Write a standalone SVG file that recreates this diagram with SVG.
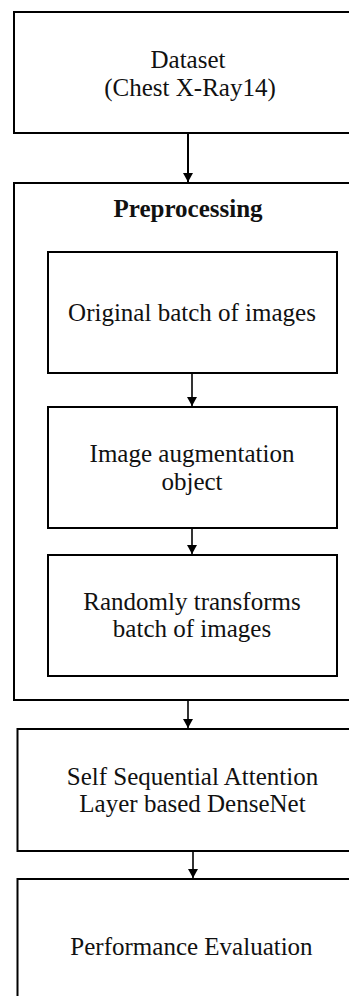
<svg xmlns="http://www.w3.org/2000/svg" width="349" height="996" viewBox="0 0 349 996">
<defs>
<style>
.box{fill:none;stroke:#000;stroke-width:2}
.t{font-family:"Liberation Serif","Times New Roman",serif;font-size:25px;fill:#111;text-anchor:middle}
.b{font-weight:bold}
.c{stroke:#000;stroke-width:1.6;fill:none}
.c2{stroke:#000;stroke-width:2;fill:none}
</style>
<marker id="ah" markerWidth="9" markerHeight="10" refX="9" refY="5" orient="auto" markerUnits="userSpaceOnUse" viewBox="0 0 9 10">
<path d="M0,0 L9,5 L0,10 Z" fill="#000"/>
</marker>
</defs>
<rect width="349" height="996" fill="#fff"/>
<g id="dataset">
<rect class="box" x="14" y="12" width="360" height="121"/>
<text class="t" x="188" y="68">Dataset</text>
<text class="t" x="190" y="96">(Chest X-Ray14)</text>
</g>
<g id="preprocessing">
<rect class="box" x="14" y="183" width="360" height="517"/>
<text class="t b" x="188" y="217">Preprocessing</text>
</g>
<g id="original">
<rect class="box" x="48" y="252" width="289" height="121"/>
<text class="t" x="192" y="321">Original batch of images</text>
</g>
<g id="augmentation">
<rect class="box" x="48" y="407" width="289" height="121"/>
<text class="t" x="192" y="462">Image augmentation</text>
<text class="t" x="192" y="490">object</text>
</g>
<g id="transforms">
<rect class="box" x="48" y="555" width="289" height="121"/>
<text class="t" x="192" y="610">Randomly transforms</text>
<text class="t" x="192" y="637">batch of images</text>
</g>
<g id="densenet">
<rect class="box" x="17.5" y="729" width="360" height="122"/>
<text class="t" x="192.5" y="785">Self Sequential Attention</text>
<text class="t" x="192.5" y="812">Layer based DenseNet</text>
</g>
<g id="evaluation">
<rect class="box" x="17.5" y="879" width="360" height="140"/>
<text class="t" x="191.5" y="955">Performance Evaluation</text>
</g>
<g id="connectors">
<line class="c2" x1="188" y1="133" x2="188" y2="182" marker-end="url(#ah)"/>
<line class="c" x1="192" y1="373" x2="192" y2="406" marker-end="url(#ah)"/>
<line class="c" x1="192" y1="528" x2="192" y2="554" marker-end="url(#ah)"/>
<line class="c" x1="188" y1="700" x2="188" y2="728" marker-end="url(#ah)"/>
<line class="c" x1="193" y1="851" x2="193" y2="878" marker-end="url(#ah)"/>
</g>
</svg>
